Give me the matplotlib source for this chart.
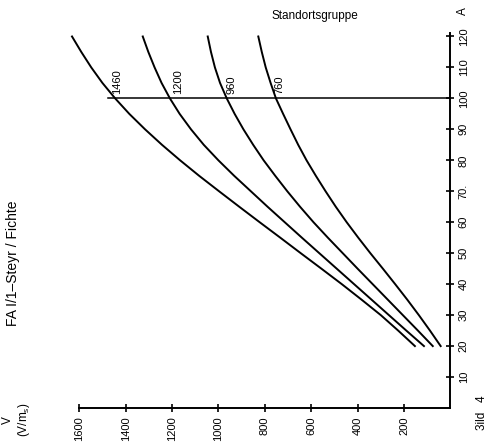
import numpy as np
import matplotlib.pyplot as plt

plt.rcParams['font.family'] = ['Liberation Sans', 'DejaVu Sans']

# A (y axis, points 20..120 in steps of 5) and V for the four Standortsgruppen
A = [20, 25, 30, 35, 40, 45, 50, 55, 60, 65, 70, 75, 80, 85, 90, 95, 100, 105, 110, 115, 120]
v_1460 = [153, 225, 300, 383, 468, 556, 645, 733, 822, 910, 997, 1083, 1165, 1243, 1316, 1384,
          1445, 1500, 1548, 1591, 1631]
v_1200 = [114, 190, 265, 340, 415, 490, 565, 640, 714, 788, 860, 932, 1000, 1063, 1118, 1167,
          1209, 1245, 1275, 1302, 1326]
v_960 = [76, 140, 205, 270, 335, 400, 464, 528, 590, 648, 703, 755, 805, 850, 892, 930,
         964, 993, 1015, 1032, 1046]
v_760 = [42, 88, 136, 186, 238, 291, 345, 397, 447, 494, 538, 580, 620, 656, 689, 721,
         752, 775, 796, 813, 828]
curves = [v_1460, v_1200, v_960, v_760]
groups = ["1460", "1200", "960", "760"]
label_v = [1437, 1174, 945, 735]

v_ticks = [200, 400, 600, 800, 1000, 1200, 1400, 1600]
a_ticks = [10, 20, 30, 40, 50, 60, 70, 80, 90, 100, 110, 120]
a_labels = ["10", "20", "30", "40", "50", "60", "70.", "80", "90", "100", "110", "120"]

fig = plt.figure(figsize=(4.9, 4.48), dpi=100)
ax = fig.add_axes([56 / 490, 40 / 448, 394.4 / 490, 387 / 448])

for v in curves:
    ax.plot(v, A, color='black', lw=1.4)
ax.plot([1476, 0], [100, 100], color='black', lw=1.1)

for v, lab in zip(label_v, groups):
    ax.text(v, 101.4, lab, rotation=90, ha='center', va='bottom', fontsize=8)

ax.set_xlim(1700, 0)
ax.set_ylim(0, 125)
ax.spines['top'].set_visible(False)
ax.spines['left'].set_visible(False)
ax.spines['bottom'].set_bounds(0, 1600)
ax.spines['right'].set_bounds(0, 121)
ax.spines['bottom'].set_linewidth(1.4)
ax.spines['right'].set_linewidth(1.4)
ax.yaxis.tick_right()

ax.set_xticks(v_ticks)
ax.set_xticklabels([str(t) for t in v_ticks], rotation=90, fontsize=8)
ax.set_yticks(a_ticks)
ax.set_yticklabels(a_labels, rotation=90, fontsize=8)
for t in ax.get_yticklabels():
    t.set_va('center')
ax.tick_params(direction='inout', length=6, width=1.2, pad=3)

fig.text(315 / 490, 1 - 16 / 448, "Standortsgruppe", ha='center', va='center', fontsize=8.5)
fig.text(463 / 490, 1 - 11 / 448, "A", rotation=90, ha='center', va='center', fontsize=8.5)
fig.text(13 / 490, 1 - 263 / 448, "FA I/1\u2013Steyr / Fichte", rotation=90,
         ha='center', va='center', fontsize=10)
fig.text(17 / 490, 1 - 420 / 448, "V\n(V/m$_\\mathregular{s}$)", rotation=90,
         ha='center', va='center', fontsize=8.5, multialignment='center')
fig.text(482 / 490, 1 - 413 / 448, "3ild   4", rotation=90, ha='center', va='center', fontsize=8.5)

fig.savefig("out.png", dpi=100)
